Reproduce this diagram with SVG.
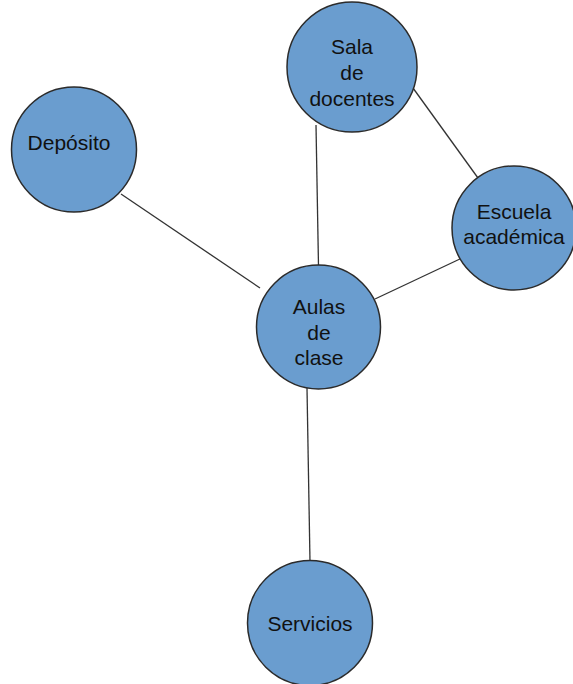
<svg xmlns="http://www.w3.org/2000/svg" width="573" height="684" viewBox="0 0 573 684">
  <style>
    .edge { stroke: #333333; stroke-width: 1.3; fill: none; }
    .node circle { fill: #6a9dcf; stroke: #2b2b2b; stroke-width: 1.5; }
    .node text { font-family: "Liberation Sans", Arial, sans-serif; font-size: 21px; fill: #111111; text-anchor: middle; }
  </style>
  <rect width="573" height="684" fill="#ffffff"/>
  <g id="edges">
    <line class="edge" x1="316" y1="125" x2="318.5" y2="266"/>
    <line class="edge" x1="413" y1="88" x2="478" y2="178"/>
    <line class="edge" x1="121" y1="194" x2="260" y2="288"/>
    <line class="edge" x1="462" y1="258" x2="375" y2="299"/>
    <line class="edge" x1="307" y1="388" x2="310" y2="562"/>
  </g>
  <g id="sala" class="node">
    <circle cx="352" cy="67" r="65"/>
    <text x="352" y="54">Sala</text>
    <text x="352" y="80">de</text>
    <text x="352" y="106">docentes</text>
  </g>
  <g id="deposito" class="node">
    <circle cx="74" cy="149.5" r="62.5"/>
    <text x="69" y="150">Depósito</text>
  </g>
  <g id="escuela" class="node">
    <circle cx="514" cy="228" r="62"/>
    <text x="514" y="219">Escuela</text>
    <text x="514" y="244">académica</text>
  </g>
  <g id="aulas" class="node">
    <circle cx="318.5" cy="327" r="62"/>
    <text x="319" y="314">Aulas</text>
    <text x="319" y="340">de</text>
    <text x="319" y="365">clase</text>
  </g>
  <g id="servicios" class="node">
    <circle cx="310" cy="623" r="62.5"/>
    <text x="310" y="631">Servicios</text>
  </g>
</svg>
